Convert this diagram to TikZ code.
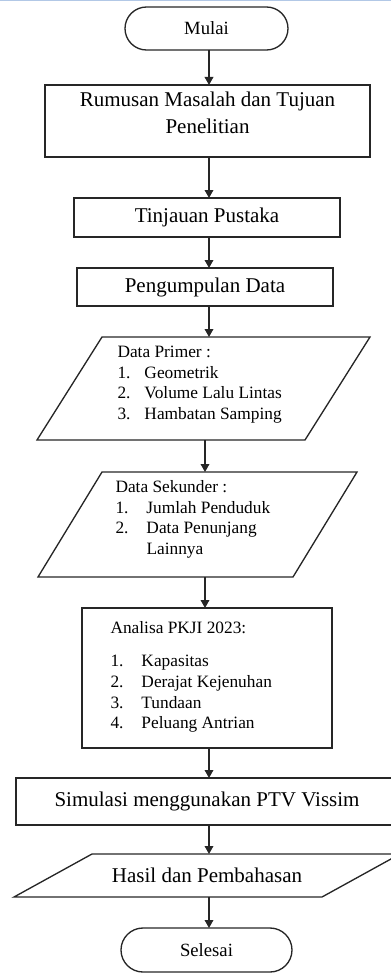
\documentclass[tikz,border=0pt]{standalone}
\usepackage{fontspec}
\setmainfont{Liberation Serif}
\usetikzlibrary{arrows.meta,shapes.misc}

\definecolor{linegray}{RGB}{38,38,38}
\definecolor{edgeblue}{RGB}{178,200,230}

\tikzset{every picture/.style={line width=0.75pt}}
\tikzset{
  terminal/.style={rounded rectangle, draw=linegray, line width=1pt, inner sep=0pt, outer sep=0pt, font=\fontsize{14}{17}\selectfont},
  process/.style={rectangle, draw=linegray, line width=1pt, inner sep=0pt, outer sep=0pt, align=center, font=\fontsize{15.75}{20.25}\selectfont},
  ioframe/.style={rectangle, inner sep=0pt, outer sep=0pt, align=center, font=\fontsize{15.75}{20.25}\selectfont},
  iopath/.style={draw=linegray, line width=1pt, line join=miter},
  boxtext/.style={inner sep=0pt, align=center, font=\fontsize{15.75}{20.25}\selectfont},
  listtext/.style={inner sep=0pt, anchor=base west, font=\fontsize{13}{15.5}\selectfont},
  arrowline/.style={draw=linegray, line width=1pt, -{Triangle[width=6.5pt,length=6pt]}}
}

\begin{document}
\begin{tikzpicture}[x=0.75pt,y=0.75pt,yscale=-1,xscale=1]
\useasboundingbox (0,0) rectangle (391,974);
\clip (0,0) rectangle (391,974);

%Straight Lines: page edge
\draw [edgeblue, line width=1.1pt] (0,0.7) -- (391,0.7) ;

%Shape: Terminal
\node [terminal, minimum width=122.25pt, minimum height=32.25pt] (mulai) at (206.5,28.5) {Mulai};
%Shape: Rectangle
\node [process, minimum width=243.75pt, minimum height=54pt] (rumusan) at (207.5,121) {};
%Shape: Rectangle
\node [process, minimum width=199.5pt, minimum height=29.25pt] (tinjauan) at (207,217.5) {Tinjauan Pustaka};
%Shape: Rectangle
\node [process, minimum width=192pt, minimum height=28.5pt] (pengumpulan) at (205,287) {Pengumpulan Data};
%Shape: Parallelogram
\node [ioframe, minimum width=249.75pt, minimum height=77.25pt] (primer) at (203.5,388.5) {};
\draw [iopath] (primer.south west) -- ([xshift=48.75pt]primer.north west) -- (primer.north east) -- ([xshift=-48.75pt]primer.south east) -- cycle ;
%Shape: Parallelogram
\node [ioframe, minimum width=239.25pt, minimum height=78.75pt] (sekunder) at (197.5,524.5) {};
\draw [iopath] (sekunder.south west) -- ([xshift=48pt]sekunder.north west) -- (sekunder.north east) -- ([xshift=-48pt]sekunder.south east) -- cycle ;
%Shape: Rectangle
\node [process, minimum width=187.5pt, minimum height=105pt] (analisa) at (207,678) {};
%Shape: Rectangle
\node [process, minimum width=286.5pt, minimum height=35.25pt] (simulasi) at (207,801.5) {Simulasi menggunakan PTV Vissim};
%Shape: Parallelogram
\node [ioframe, minimum width=289.5pt, minimum height=32.25pt] (hasil) at (207,875.5) {Hasil dan Pembahasan};
\draw [iopath] (hasil.south west) -- ([xshift=58.5pt]hasil.north west) -- (hasil.north east) -- ([xshift=-58.5pt]hasil.south east) -- cycle ;
%Shape: Terminal
\node [terminal, minimum width=128.25pt, minimum height=33pt] (selesai) at (206.5,950) {Selesai};

% Text Node
\node [boxtext] (rumusantext) at (207.5,112.5) {Rumusan Masalah dan Tujuan\\Penelitian};
% Text Node
\node [listtext] (primertext) at (117,357.5) {\begin{tabular}[t]{@{}p{20.25pt}@{}l@{}}
\multicolumn{2}{@{}l@{}}{Data Primer :}\\
1. & Geometrik\\
2. & Volume Lalu Lintas\\
3. & Hambatan Samping
\end{tabular}};
% Text Node
\node [listtext] (sekundertext) at (115,492.5) {\begin{tabular}[t]{@{}p{23.25pt}@{}l@{}}
\multicolumn{2}{@{}l@{}}{Data Sekunder :}\\
1. & Jumlah Penduduk\\
2. & Data Penunjang\\
 & Lainnya
\end{tabular}};
% Text Node
\node [listtext] (analisatext) at (110,633) {\begin{tabular}[t]{@{}p{23.25pt}@{}l@{}}
\multicolumn{2}{@{}l@{}}{Analisa PKJI 2023:}\\[9.75pt]
1. & Kapasitas\\
2. & Derajat Kejenuhan\\
3. & Tundaan\\
4. & Peluang Antrian
\end{tabular}};

%Straight Lines: flow
\coordinate (colA) at (209,0);
\coordinate (colB) at (205,0);
\draw [arrowline] (mulai.south -| colA) -- (rumusan.north -| colA) ;
\draw [arrowline] (rumusan.south -| colA) -- (tinjauan.north -| colA) ;
\draw [arrowline] (tinjauan.south -| colA) -- (pengumpulan.north -| colA) ;
\draw [arrowline] (pengumpulan.south -| colA) -- (primer.north -| colA) ;
\draw [arrowline] (primer.south -| colB) -- (sekunder.north -| colB) ;
\draw [arrowline] (sekunder.south -| colB) -- (analisa.north -| colB) ;
\draw [arrowline] (analisa.south -| colA) -- (simulasi.north -| colA) ;
\draw [arrowline] (simulasi.south -| colA) -- (hasil.north -| colA) ;
\draw [arrowline] (hasil.south -| colA) -- (selesai.north -| colA) ;

\end{tikzpicture}
\end{document}
